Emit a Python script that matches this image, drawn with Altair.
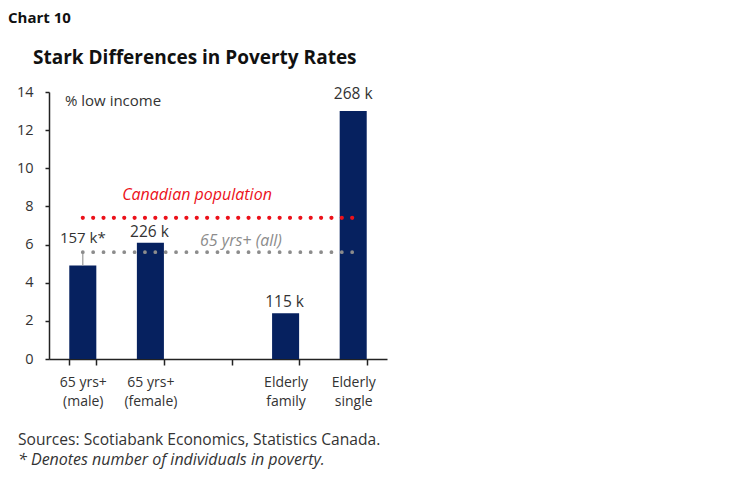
import altair as alt
import pandas as pd

categories = ["65 yrs+|(male)", "65 yrs+|(female)", " ", "Elderly|family", "Elderly|single"]
bar_cats = ["65 yrs+|(male)", "65 yrs+|(female)", "Elderly|family", "Elderly|single"]
rates = [4.9, 6.1, 2.4, 13.0]
counts = ["157 k*", "226 k", "115 k", "268 k"]
canada_rate = 7.4
seniors_rate = 5.6
leader_top = 5.55
y_max = 14
y_ticks = [0, 2, 4, 6, 8, 10, 12, 14]

FONT = "Open Sans"
NAVY = "#06215f"
RED = "#ec111a"
GRAY = "#8c8c8c"
TXT = "#333333"

bars_df = pd.DataFrame({"cat": bar_cats, "rate": rates, "count": counts})
ref_df = pd.DataFrame({
    "start": [bar_cats[0], bar_cats[0]],
    "end": [bar_cats[-1], bar_cats[-1]],
    "val": [canada_rate, seniors_rate],
    "kind": ["canada", "seniors"],
})

x_scale = alt.Scale(domain=categories, paddingInner=0.6, paddingOuter=0.3)
y_scale = alt.Scale(domain=[0, y_max], nice=False, zero=True)

x_axis = alt.Axis(title=None, labelAngle=0, labelExpr="split(datum.label, '|')",
                  labelFont=FONT, labelFontSize=14, labelColor=TXT, labelLineHeight=19,
                  labelPadding=10, tickBand="extent", tickSize=6, tickColor="#222",
                  domainColor="#222", domainWidth=1.5, tickWidth=1.5)
y_axis = alt.Axis(title=None, values=y_ticks, grid=False,
                  labelOverlap=False, labelFlush=False,
                  labelFont=FONT, labelFontSize=14.5, labelColor=TXT, labelPadding=12,
                  tickSize=4, tickColor="#222", domainColor="#222", domainWidth=1.5,
                  tickWidth=1.5)


def X(field):
    return alt.X(field, scale=x_scale, axis=x_axis, title=None)


def Y(field):
    return alt.Y(field, scale=y_scale, axis=y_axis, title=None)


base = alt.Chart(bars_df)
bars = base.mark_bar(color=NAVY).encode(x=X("cat:N"), y=Y("rate:Q"))

labels = base.transform_filter(
    (alt.datum.cat != bar_cats[0]) & (alt.datum.cat != bar_cats[-1])
).mark_text(
    font=FONT, fontSize=15.5, color=TXT, baseline="bottom", dy=-3, dx=-1
).encode(x=X("cat:N"), y=Y("rate:Q"), text="count:N")

top_label = base.transform_filter(alt.datum.cat == bar_cats[-1]).transform_calculate(
    rate=str(y_max)
).mark_text(
    font=FONT, fontSize=15.5, color=TXT, baseline="middle", dy=2
).encode(x=X("cat:N"), y=Y("rate:Q"), text="count:N")

male_label = base.transform_filter(alt.datum.cat == bar_cats[0]).transform_calculate(
    rate=str(leader_top)
).mark_text(
    font=FONT, fontSize=15, color=TXT, baseline="bottom", dy=-7
).encode(x=X("cat:N"), y=Y("rate:Q"), text="count:N")

leader = base.transform_filter(alt.datum.cat == bar_cats[0]).transform_calculate(
    top=str(leader_top)
).mark_rule(color="#999999", strokeWidth=1.2).encode(
    x=X("cat:N"), y=Y("rate:Q"), y2="top:Q")

refs = alt.Chart(ref_df).transform_calculate(cat="datum.start", rate="datum.val").mark_rule(
    strokeDash=[0.01, 10.35], strokeCap="round", x2Offset=4).encode(
    x=X("cat:N"), x2=alt.X2("end:N"), y=Y("rate:Q"),
    color=alt.Color("kind:N", scale=alt.Scale(domain=["canada", "seniors"], range=[RED, GRAY]), legend=None),
    strokeWidth=alt.StrokeWidth("kind:N", scale=alt.Scale(domain=["canada", "seniors"], range=[4.2, 3.8]), legend=None),
)


def note(text, px, py, **kw):
    params = dict(font=FONT, fontSize=15, color=TXT, align="left", baseline="middle")
    params.update(kw)
    return alt.Chart(pd.DataFrame({"t": [text]})).mark_text(**params).encode(
        x=alt.value(px), y=alt.value(py), text="t:N")


notes = [
    note("Chart 10", 8 - 49, 18 - 92, fontSize=15, fontWeight="bold", color="#111"),
    note("Stark Differences in Poverty Rates", 33 - 49, 58 - 92, fontSize=19, fontWeight="bold", color="#111"),
    note("% low income", 65 - 49, 101 - 92),
    note("Canadian population", 197 - 49, 195 - 92, color=RED, fontStyle="italic", align="center", fontSize=16),
    note("65 yrs+ (all)", 200 - 49, 241 - 92, color=GRAY, fontStyle="italic", fontSize=16),
    note("Sources: Scotiabank Economics, Statistics Canada.", 18 - 49, 440 - 92, fontSize=15.6),
    note("* Denotes number of individuals in poverty.", 18 - 49, 460 - 92, fontStyle="italic", fontSize=16),
]

chart = alt.layer(bars, leader, refs, labels, top_label, male_label, *notes).properties(
    width=338, height=267,
    padding={"left": 41, "top": 84, "right": 355, "bottom": 115},
    autosize=alt.AutoSizeParams(type="none"),
    background="white",
).configure_view(stroke=None)

chart.save("out.html", embed_options={"renderer": "svg", "actions": False})
